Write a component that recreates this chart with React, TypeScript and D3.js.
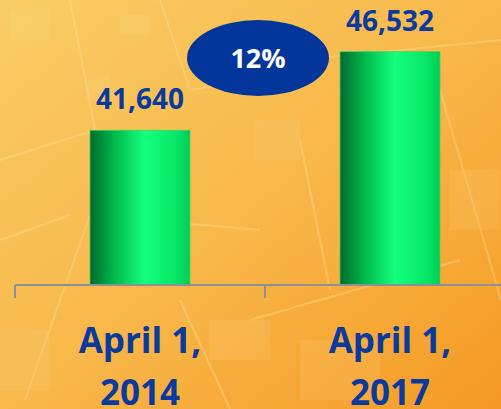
import React, { useEffect, useRef } from "react";
import * as d3 from "d3";

const categories = ["April 1, 2014", "April 1, 2017"];
const values = [41640, 46532];
const changeLabel = "12%";

const W = 501;
const H = 409;

export default function App() {
  const ref = useRef<SVGSVGElement>(null);

  useEffect(() => {
    document.body.style.margin = "0";
    const svg = d3.select(ref.current);
    svg.selectAll("*").remove();

    const defs = svg.append("defs");
    const bg = defs
      .append("linearGradient")
      .attr("id", "bg")
      .attr("x1", "0")
      .attr("y1", "0")
      .attr("x2", "1")
      .attr("y2", "1");
    bg.append("stop").attr("offset", "0%").attr("stop-color", "#f9cd66");
    bg.append("stop").attr("offset", "50%").attr("stop-color", "#f8b84a");
    bg.append("stop").attr("offset", "100%").attr("stop-color", "#f59a24");

    const barGrad = defs
      .append("linearGradient")
      .attr("id", "bar")
      .attr("x1", "0")
      .attr("x2", "1")
      .attr("y1", "0")
      .attr("y2", "0");
    barGrad.append("stop").attr("offset", "0%").attr("stop-color", "#006a2c");
    barGrad.append("stop").attr("offset", "25%").attr("stop-color", "#00bb4c");
    barGrad.append("stop").attr("offset", "55%").attr("stop-color", "#14ff7e");
    barGrad.append("stop").attr("offset", "85%").attr("stop-color", "#08e866");
    barGrad.append("stop").attr("offset", "100%").attr("stop-color", "#00cc55");

    svg.append("rect").attr("width", W).attr("height", H).attr("fill", "url(#bg)");

    // faint circuit-like texture
    const deco = svg.append("g").attr("stroke", "#ffe29a").attr("fill", "none").attr("opacity", 0.35);
    const lines: [number, number, number, number][] = [
      [70, 0, 95, 130], [95, 130, 0, 160], [160, 0, 190, 90], [190, 90, 320, 70],
      [25, 400, 90, 215], [90, 215, 260, 230], [300, 60, 501, 40], [440, 90, 501, 300],
      [250, 320, 460, 260], [180, 300, 230, 409], [300, 140, 330, 290], [0, 240, 70, 215],
    ];
    lines.forEach(([x1, y1, x2, y2]) =>
      deco.append("line").attr("x1", x1).attr("y1", y1).attr("x2", x2).attr("y2", y2).attr("stroke-width", 2)
    );
    const rects: [number, number, number, number][] = [
      [10, 10, 40, 30], [120, 15, 30, 20], [85, 75, 25, 25], [255, 120, 45, 40],
      [450, 170, 50, 60], [210, 320, 60, 40], [300, 340, 80, 60], [0, 330, 50, 60],
    ];
    rects.forEach(([x, y, w, h]) =>
      deco.append("rect").attr("x", x).attr("y", y).attr("width", w).attr("height", h)
        .attr("fill", "#ffe6a8").attr("stroke", "none").attr("opacity", 0.35)
    );

    const x = d3.scaleBand().domain(categories).range([15, 515]).paddingInner(0.6).paddingOuter(0.3);
    const y = d3.scaleLinear().domain([32000, 50000]).range([285, -4]);

    // bars
    svg
      .selectAll("rect.bar")
      .data(values)
      .enter()
      .append("rect")
      .attr("class", "bar")
      .attr("x", (_, i) => x(categories[i])!)
      .attr("y", (d) => y(d))
      .attr("width", x.bandwidth())
      .attr("height", (d) => y.range()[0] - y(d))
      .attr("fill", "url(#bar)")
      .attr("stroke", "#4fd06a")
      .attr("stroke-width", 0.8);

    // value labels
    svg
      .selectAll("text.val")
      .data(values)
      .enter()
      .append("text")
      .attr("class", "val")
      .attr("x", (_, i) => x(categories[i])! + x.bandwidth() / 2)
      .attr("y", (d) => y(d) - 21)
      .attr("text-anchor", "middle")
      .attr("font-family", "'Open Sans', sans-serif")
      .attr("font-weight", 700)
      .attr("font-size", 28)
      .attr("fill", "#0a3a9e")
      .text((d) => d3.format(",")(d));

    // axis
    const step = x.step();
    const axisY = y.range()[0];
    const g = svg.append("g").attr("stroke", "#8c9099").attr("stroke-width", 2);
    g.append("line").attr("x1", 15).attr("x2", W).attr("y1", axisY).attr("y2", axisY);
    [0, 1, 2].forEach((i) => {
      const tx = 15 + i * step;
      g.append("line").attr("x1", tx).attr("x2", tx).attr("y1", axisY).attr("y2", axisY + 13);
    });

    // category labels (second line runs off the bottom edge, as in the source slide)
    categories.forEach((c, i) => {
      const cx = x(c)! + x.bandwidth() / 2;
      const parts = [c.slice(0, c.lastIndexOf(" ")), c.slice(c.lastIndexOf(" ") + 1)];
      const t = svg
        .append("text")
        .attr("text-anchor", "middle")
        .attr("font-family", "'Open Sans', sans-serif")
        .attr("font-weight", 700)
        .attr("font-size", 35)
        .attr("fill", "#0a3a9e");
      parts.forEach((p, j) => {
        t.append("tspan").attr("x", cx).attr("y", 353 + j * 52).text(p);
      });
    });

    // change bubble
    const midX = (x(categories[0])! + x.bandwidth() + x(categories[1])!) / 2 - 7;
    svg.append("ellipse").attr("cx", midX).attr("cy", 58).attr("rx", 71).attr("ry", 38).attr("fill", "#02369a");
    svg
      .append("text")
      .attr("x", midX)
      .attr("y", 68)
      .attr("text-anchor", "middle")
      .attr("font-family", "'Open Sans', sans-serif")
      .attr("font-weight", 700)
      .attr("font-size", 27)
      .attr("fill", "#ffffff")
      .text(changeLabel);
  }, []);

  return <svg ref={ref} width={W} height={H} style={{ display: "block" }} />;
}
